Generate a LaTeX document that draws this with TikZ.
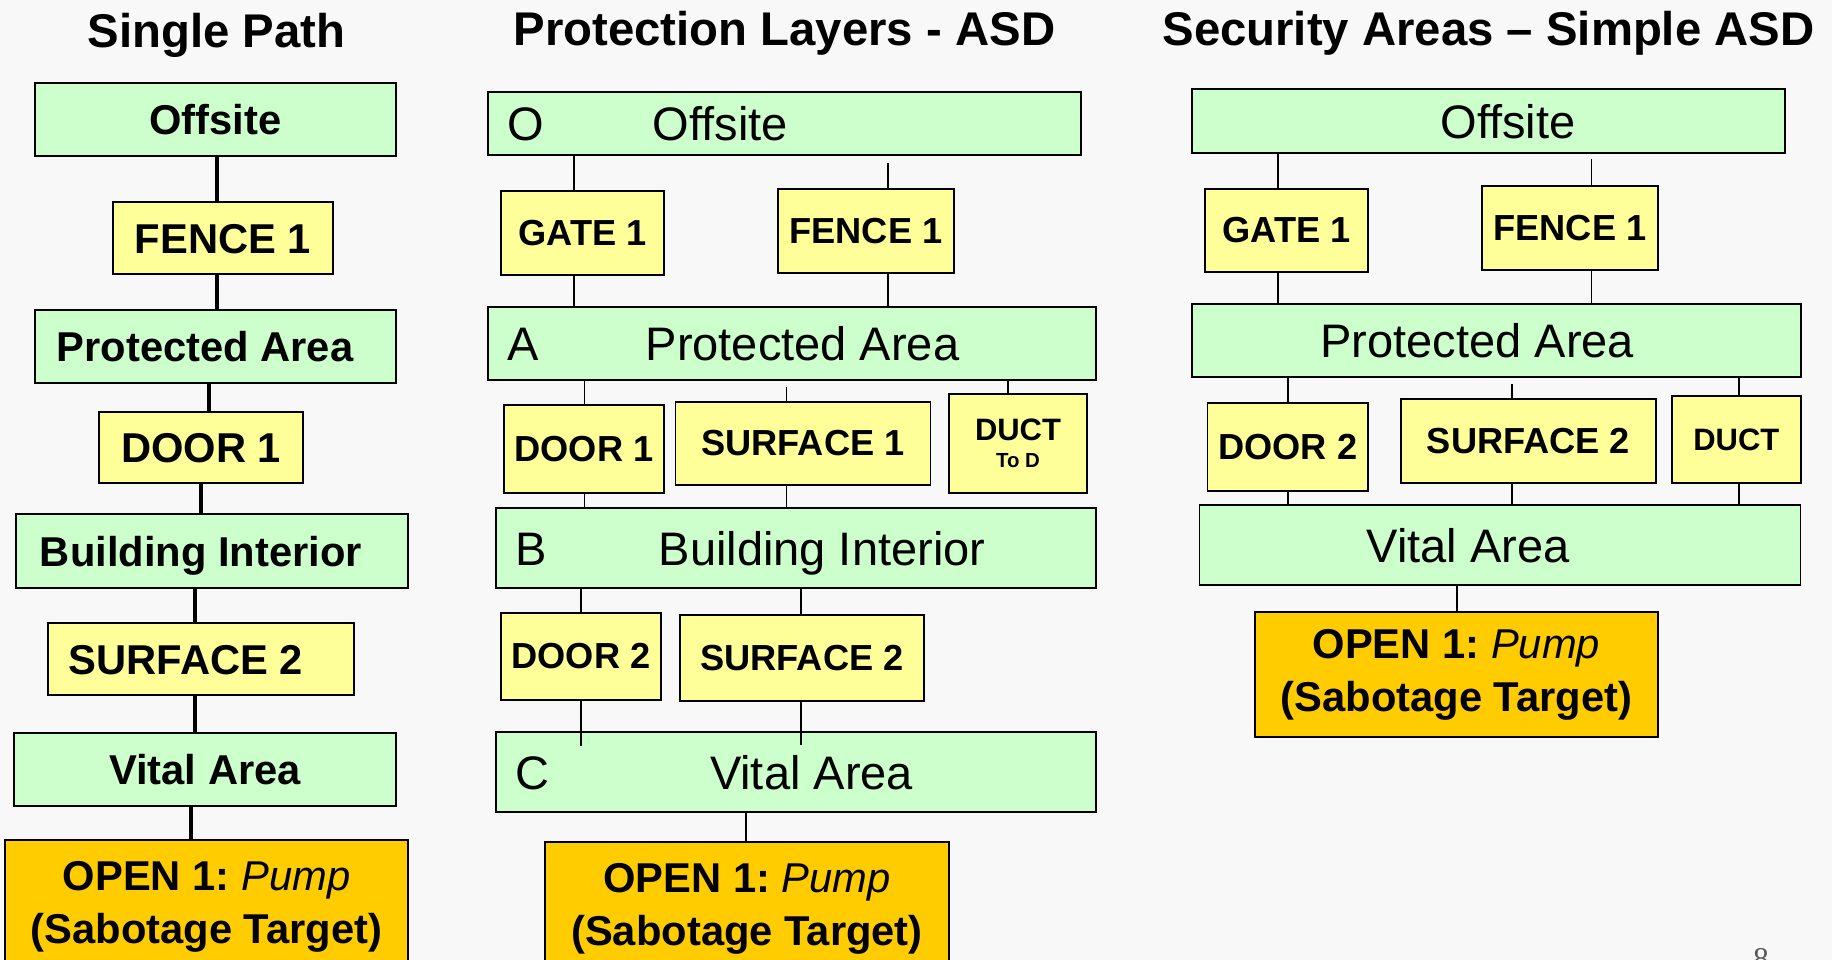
\documentclass[tikz,border=0pt]{standalone}
\usepackage{fontspec}
\setmainfont{Liberation Sans}
\newfontfamily\pagefont{Liberation Serif}
\definecolor{zonegreen}{HTML}{CCFFCC}
\definecolor{barrieryellow}{HTML}{FFFF99}
\definecolor{targetorange}{HTML}{FFCC00}
\definecolor{pagebg}{HTML}{F8F8F8}

\begin{document}
\frenchspacing
\begin{tikzpicture}[x=0.01cm, y=-0.01cm,
  boxsize/.style 2 args={minimum width=#1*0.01cm, minimum height=#2*0.01cm},
  box/.style={draw=black, line width=0.55pt, inner sep=0pt},
  zone/.style={box, fill=zonegreen},
  heading/.style={anchor=base, font=\fontsize{13.45}{16}\selectfont\bfseries},
  pathzone/.style={zone, font=\fontsize{11.86}{14}\selectfont\bfseries, text height=0.30cm, text depth=0pt},
  pathgate/.style={box, fill=barrieryellow, font=\fontsize{11.86}{14}\selectfont\bfseries, text height=0.30cm, text depth=0pt},
  layer/.style={zone, font=\fontsize{13.37}{16}\selectfont, text height=0.34cm, text depth=0pt},
  letter/.style={anchor=west, xshift=0.2cm, inner sep=0pt, font=\fontsize{13.37}{16}\selectfont, text height=0.34cm, text depth=0pt},
  barrier/.style={box, fill=barrieryellow, font=\fontsize{10.3}{12}\selectfont\bfseries},
  target/.style={box, fill=targetorange, align=center, font=\fontsize{11.86}{15.1}\selectfont\bfseries},
  spine/.style={line width=1.35pt},
  link/.style={line width=0.4pt}]

\clip (0,0) rectangle (1832,960);
\fill[pagebg] (0,0) rectangle (1832,960);

% headings
\node[heading] (h1) at (216.5,47) {Single Path};
\node[heading] (h2) at (784.5,45) {Protection Layers - ASD};
\node[heading] (h3) at (1488.5,45) {Security Areas -- Simple ASD};

% single path
\node[pathzone, boxsize={361}{73}] (lO) at (215.5,119.5) {Offsite};
\node[pathgate, boxsize={220}{72}] (lF) at (223,238) {FENCE 1};
\node[pathzone, boxsize={361}{73}] (lP) at (215.5,346.5) {Protected Area\hspace*{0.21cm}};
\node[pathgate, boxsize={204}{71}] (lD) at (201,447.5) {DOOR 1};
\node[pathzone, boxsize={392}{74}] (lB) at (212,551) {Building Interior\hspace*{0.22cm}};
\node[pathgate, boxsize={306}{72}] (lS) at (201,659) {SURFACE 2\hspace*{0.3cm}};
\node[pathzone, boxsize={382}{73}] (lV) at (205,769.5) {Vital Area};
\node[target, boxsize={403}{134}] (lT) at (206.5,907) {OPEN 1: {\mdseries\itshape Pump}\\(Sabotage Target)};

\draw[spine] (lO.south -| 217,0) -- (lF.north -| 217,0);
\draw[spine] (lF.south -| 217,0) -- (lP.north -| 217,0);
\draw[spine] (lP.south -| 209,0) -- (lD.north -| 209,0);
\draw[spine] (lD.south -| 201,0) -- (lB.north -| 201,0);
\draw[spine] (lB.south -| 195,0) -- (lS.north -| 195,0);
\draw[spine] (lS.south -| 195,0) -- (lV.north -| 195,0);
\draw[spine] (lV.south -| 191,0) -- (lT.north -| 191,0);

% protection layers
\node[layer, boxsize={593}{63}, label={[letter]west:O}] (mO) at (784.5,123.5) {Offsite\hspace*{1.28cm}};
\node[barrier, boxsize={163}{84}] (mG) at (582.5,233) {GATE 1};
\node[barrier, boxsize={176}{84}] (mF) at (866,231) {FENCE 1};
\node[layer, boxsize={608}{73}, label={[letter]west:A}] (mA) at (792,343.5) {\hspace*{0.21cm}Protected Area};
\node[barrier, boxsize={160}{88}] (mD1) at (584,449) {DOOR 1};
\node[barrier, boxsize={255}{83}] (mS1) at (803,443.5) {SURFACE 1};
\node[barrier, boxsize={138.5}{99}, align=center, font=\fontsize{8.8}{7.7}\selectfont\bfseries] (mDu) at (1018,443.5) {DUCT\\{\fontsize{5.8}{7}\selectfont To D}};
\node[layer, boxsize={600}{80}, label={[letter]west:B}] (mB) at (796,548) {\hspace*{0.52cm}Building Interior};
\node[barrier, boxsize={160}{87}] (mD2) at (581,656.5) {DOOR 2};
\node[barrier, boxsize={244}{86}] (mS2) at (802,658) {SURFACE 2};
\node[layer, boxsize={600}{80}, label={[letter]west:C}] (mC) at (796,772) {\hspace*{0.31cm}Vital Area};
\node[target, boxsize={404}{134}] (mT) at (747,909) {OPEN 1: {\mdseries\itshape Pump}\\(Sabotage Target)};

\draw[link] (mO.south -| 574,0) -- (mG.north -| 574,0);
\draw[link, shorten <=0.07cm] (mO.south -| 888,0) -- (mF.north -| 888,0);
\draw[link] (mG.south -| 574,0) -- (mA.north -| 574,0);
\draw[link] (mF.south -| 888,0) -- (mA.north -| 888,0);
\draw[link] (mA.south -| 584.5,0) -- (mD1.north -| 584.5,0);
\draw[link, shorten <=0.06cm] (mA.south -| 786.5,0) -- (mS1.north -| 786.5,0);
\draw[link] (mA.south -| 1008,0) -- (mDu.north -| 1008,0);
\draw[link] (mD1.south -| 584.5,0) -- (mB.north -| 584.5,0);
\draw[link] (mS1.south -| 786.5,0) -- (mB.north -| 786.5,0);
\draw[link] (mB.south -| 581,0) -- (mD2.north -| 581,0);
\draw[link] (mB.south -| 801,0) -- (mS2.north -| 801,0);
\draw[link, shorten >=-0.15cm] (mD2.south -| 581,0) -- (mC.north -| 581,0);
\draw[link, shorten >=-0.14cm] (mS2.south -| 801,0) -- (mC.north -| 801,0);
\draw[link] (mC.south -| 746,0) -- (mT.north -| 746,0);

% security areas
\node[layer, boxsize={593}{64}] (rO) at (1488.5,121) {\hspace*{0.39cm}Offsite};
\node[barrier, boxsize={163}{83}] (rG) at (1286.5,230.5) {GATE 1};
\node[barrier, boxsize={176}{84}] (rF) at (1570,228) {FENCE 1};
\node[layer, boxsize={608.6}{73}] (rA) at (1496.3,340.5) {Protected Area\hspace*{0.38cm}};
\node[barrier, boxsize={160.5}{88}] (rD) at (1287.75,447) {DOOR 2};
\node[barrier, boxsize={255}{84}] (rS) at (1528.5,441) {SURFACE 2};
\node[barrier, boxsize={128.6}{87}, font=\fontsize{8.8}{10}\selectfont\bfseries] (rDu) at (1736.3,439.5) {DUCT};
\node[layer, boxsize={601}{80}] (rV) at (1500,545) {Vital Area\hspace*{0.64cm}};
\node[target, boxsize={402.7}{125}] (rT) at (1456.4,674.5) {OPEN 1: {\mdseries\itshape Pump}\\(Sabotage Target)};

\draw[link] (rO.south -| 1278,0) -- (rG.north -| 1278,0);
\draw[link, shorten <=0.05cm] (rO.south -| 1591.5,0) -- (rF.north -| 1591.5,0);
\draw[link] (rG.south -| 1278,0) -- (rA.north -| 1278,0);
\draw[link] (rF.south -| 1591.5,0) -- (rA.north -| 1591.5,0);
\draw[link] (rA.south -| 1288,0) -- (rD.north -| 1288,0);
\draw[link, shorten <=0.06cm] (rA.south -| 1512,0) -- (rS.north -| 1512,0);
\draw[link] (rA.south -| 1739,0) -- (rDu.north -| 1739,0);
\draw[link] (rD.south -| 1288,0) -- (rV.north -| 1288,0);
\draw[link] (rS.south -| 1512,0) -- (rV.north -| 1512,0);
\draw[link] (rDu.south -| 1739,0) -- (rV.north -| 1739,0);
\draw[link] (rV.south -| 1457,0) -- (rT.north -| 1457,0);

% page number
\node[anchor=north, inner sep=0pt, text=gray!70!black, font=\pagefont\fontsize{9}{10}\selectfont] (pg) at (1761,948) {8};
\end{tikzpicture}
\end{document}
